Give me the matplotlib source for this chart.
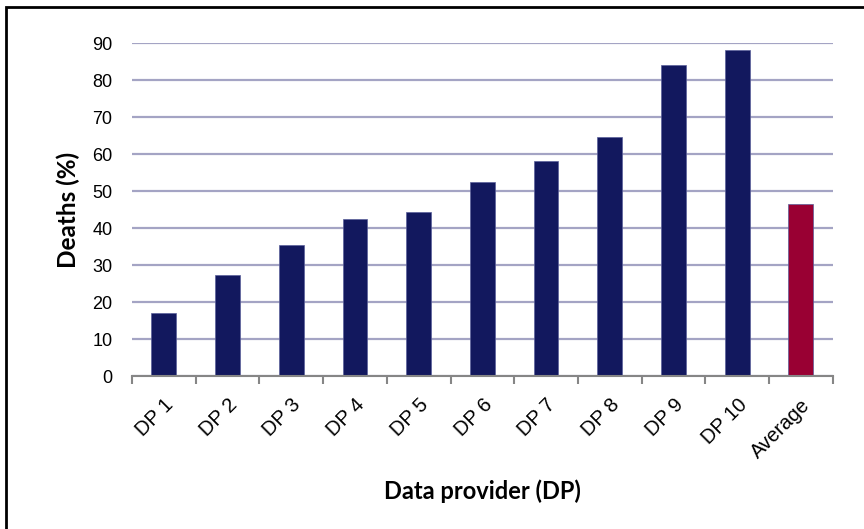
"""Deaths by data provider bar chart."""

import matplotlib

matplotlib.use("Agg")
import matplotlib.pyplot as plt
from matplotlib.patches import Rectangle
import numpy as np

plt.rcParams["font.family"] = ["Liberation Sans", "DejaVu Sans"]

providers = ["DP 1", "DP 2", "DP 3", "DP 4", "DP 5", "DP 6", "DP 7", "DP 8", "DP 9", "DP 10", "Average"]
deaths_pct = [16.9, 27.4, 35.5, 42.4, 44.2, 52.4, 58.2, 64.6, 84.0, 88.1, 46.6]
bar_colors = ["#12185E"] * 10 + ["#990033"]

fig = plt.figure(figsize=(8.64, 5.29), dpi=100)
ax = fig.add_axes([0.1528, 0.2892, 0.811, 0.6295])

x = np.arange(len(providers))
ax.bar(x, deaths_pct, width=0.39, color=bar_colors, edgecolor="#5a5f9a", linewidth=0.5, zorder=3)

ax.set_xlim(-0.5, len(providers) - 0.5)
ax.set_ylim(0, 90)
ax.set_yticks(range(0, 91, 10))
ax.yaxis.grid(True, color="#A4A4C4", linewidth=1.6, zorder=0)
ax.set_axisbelow(True)

for side in ("top", "right", "left"):
    ax.spines[side].set_visible(False)
ax.spines["bottom"].set_color("#868686")
ax.spines["bottom"].set_linewidth(1.5)
ax.spines["bottom"].set_zorder(4)

ax.tick_params(axis="y", length=0, pad=14, labelsize=13)
ax.set_xticks(x)
ax.set_xticklabels(providers, rotation=45, ha="right", rotation_mode="anchor", fontsize=14.5)
ax.tick_params(axis="x", which="major", length=0, pad=14)
ax.set_xticks(np.arange(-0.5, len(providers)), minor=True)
ax.tick_params(axis="x", which="minor", length=6, width=1.5, color="#868686")

ax.set_ylabel("Deaths (%)", fontsize=17.5, fontweight="bold", family="Lato", labelpad=9)
ax.set_xlabel("Data provider (DP)", fontsize=17, fontweight="bold", family="Lato", labelpad=13)

fig.patches.append(Rectangle((6 / 864, -0.1), 1.2, 1.1 - 7 / 529, transform=fig.transFigure,
                             fill=False, edgecolor="black", linewidth=2))

fig.savefig("out.png", dpi=100)
